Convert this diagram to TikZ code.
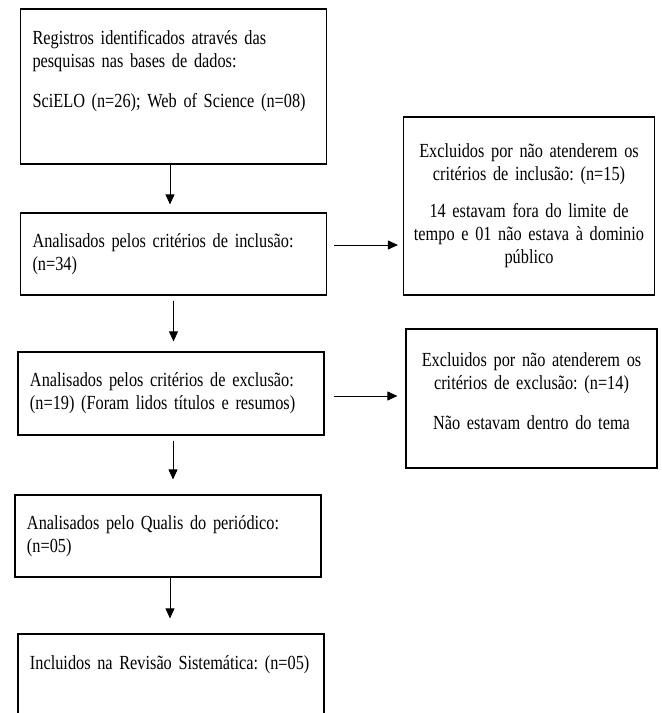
\documentclass[tikz,border=0pt]{standalone}
\usepackage{fontspec}
\setmainfont{Liberation Serif}[FakeStretch=0.815]
\usetikzlibrary{arrows.meta}
\newcommand\fontefluxo{\fontsize{20}{23}\selectfont\frenchspacing\fontdimen2\font=3.8pt\relax}

\begin{document}
\begin{tikzpicture}[x=1pt,y=-1pt,
  passo/.style={draw,font=\fontefluxo,line width=1.2pt,align=left,inner xsep=12pt,inner ysep=0pt,text width=282pt,minimum width=306pt},
  excluido/.style={draw,font=\fontefluxo,line width=1.2pt,align=center,inner xsep=5pt,inner ysep=0pt,text width=241pt,minimum width=251pt},
  seta/.style={line width=0.9pt,-{Triangle[width=9pt,length=10pt]}}]
\useasboundingbox (0,0) rectangle (662,713);
\clip (0,0) rectangle (662,713);
\coordinate (p1) at (173.5,86.5);
\coordinate (p2) at (173.5,254);
\coordinate (p3) at (171,393.5);
\coordinate (p4) at (168,536);
\coordinate (p5) at (171,689);
\coordinate (q1) at (529,206);
\coordinate (q2) at (531.5,398.5);

  \node (regist) at (p1) [passo,minimum height=155pt] {Registros identificados através das\\ pesquisas nas bases de dados:\\[17pt] SciELO (n=26); Web of Science (n=08)\\[12pt]\mbox{}};
  \node (inclu) at (p2) [passo,minimum height=82pt] {Analisados pelos critérios de inclusão:\\ (n=34)};
  \node (exclu) at (p3) [passo,minimum height=83pt] {Analisados pelos critérios de exclusão:\\ (n=19) (Foram lidos títulos e resumos)};
  \node (qualis) at (p4) [passo,minimum height=82pt] {Analisados pelo Qualis do periódico:\\ (n=05)};
  \node (final) at (p5) [passo,minimum height=110pt] {\mbox{Incluidos na Revisão Sistemática: (n=05)}\\[30pt]\mbox{}};
  \node (exinclu) at (q1) [excluido,minimum height=178pt] {Excluidos por não atenderem os\\ critérios de inclusão: (n=15)\\[14pt] 14 estavam fora do limite de\\ tempo e 01 não estava à dominio\\ público};
  \node (exexclu) at (q2) [excluido,minimum height=139pt] {Excluidos por não atenderem os\\ critérios de exclusão: (n=14)\\[17pt] Não estavam dentro do tema\\[-9pt]\mbox{}};

  \draw[seta,shorten >=8pt] ([xshift=-3.5pt]regist.south) -- ([xshift=-3.5pt]regist.south |- inclu.north);
  \draw[seta,shorten <=5pt,shorten >=10pt] (inclu.south) -- (inclu.south |- exclu.north);
  \draw[seta,shorten <=5pt,shorten >=15pt] ([xshift=2pt]exclu.south) -- ([xshift=2pt]exclu.south |- qualis.north);
  \draw[seta,shorten >=15pt] ([xshift=2pt]qualis.south) -- ([xshift=2pt]qualis.south |- final.north);
  \draw[seta,shorten <=7pt,shorten >=5pt] ([yshift=9pt]inclu.east) -- ([yshift=9pt]inclu.east -| exinclu.west);
  \draw[seta,shorten <=9pt,shorten >=8pt] ([yshift=-2.5pt]exclu.east) -- ([yshift=-2.5pt]exclu.east -| exexclu.west);
\end{tikzpicture}
\end{document}
